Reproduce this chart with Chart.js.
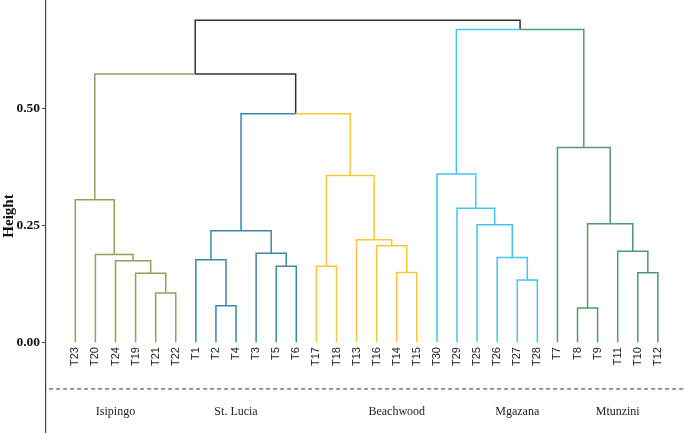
<!DOCTYPE html>
<html>
<head>
<meta charset="utf-8">
<script src="https://cdn.jsdelivr.net/npm/chart.js@4"></script>
<style>
  html, body { margin: 0; padding: 0; background: #fff; }
  #wrap { width: 685px; height: 434px; }
</style>
</head>
<body>
<div id="wrap"><canvas id="chart"></canvas></div>
<script>
// leaf order along the x axis
const leaves = ['T23','T20','T24','T19','T21','T22','T1','T2','T4','T3','T5','T6',
  'T17','T18','T13','T16','T14','T15','T30','T29','T25','T26','T27','T28',
  'T7','T8','T9','T11','T10','T12'];

// merges: [left, right, height, group]; strings are leaves, numbers are earlier merges
const merges = [
  ['T21', 'T22', 0.105, 0],
  ['T19', 0, 0.147, 0],
  ['T24', 1, 0.174, 0],
  ['T20', 2, 0.187, 0],
  ['T23', 3, 0.304, 0],
  ['T2', 'T4', 0.078, 1],
  ['T1', 5, 0.176, 1],
  ['T5', 'T6', 0.162, 1],
  ['T3', 7, 0.190, 1],
  [6, 8, 0.238, 1],
  ['T17', 'T18', 0.162, 2],
  ['T14', 'T15', 0.149, 2],
  ['T16', 11, 0.206, 2],
  ['T13', 12, 0.219, 2],
  [10, 13, 0.356, 2],
  [9, 14, 0.488, -1],
  [4, 15, 0.573, -1],
  ['T27', 'T28', 0.133, 3],
  ['T26', 17, 0.181, 3],
  ['T25', 18, 0.251, 3],
  ['T29', 19, 0.286, 3],
  ['T30', 20, 0.359, 3],
  ['T8', 'T9', 0.073, 4],
  ['T10', 'T12', 0.148, 4],
  ['T11', 23, 0.194, 4],
  [22, 24, 0.253, 4],
  ['T7', 25, 0.416, 4],
  [21, 26, 0.668, -1],
  [16, 27, 0.688, -1]
];

const groupNames = ['Isipingo', 'St. Lucia', 'Beachwood', 'Mgazana', 'Mtunzini'];
const groupLabelPos = [2, 8, 16, 22, 27];
const groupColors = ['#8aa45e', '#3a88aa', '#fcc636', '#42c6f2', '#4f9a6e'];
const yTicks = [0, 0.25, 0.5];
const cutLine = -0.1;
const groupLabelY = -0.15;

// work out node positions, then one dataset per up-link
const nodeX = merges.map(() => 0);
const posOf = (n) => typeof n === 'string' ? leaves.indexOf(n) : nodeX[n];
const hOf = (n) => typeof n === 'string' ? 0 : merges[n][2];
merges.forEach((m, i) => { nodeX[i] = (posOf(m[0]) + posOf(m[1])) / 2; });

const datasets = [];
merges.forEach((m, i) => {
  [m[0], m[1]].forEach(child => {
    const g = typeof child === 'string' ? m[3] : merges[child][3];
    const x = posOf(child);
    datasets.push({
      data: [{ x: x, y: hOf(child) }, { x: x, y: m[2] }, { x: nodeX[i], y: m[2] }],
      borderColor: g < 0 ? '#333333' : groupColors[g],
      borderWidth: 1.5,
      pointRadius: 0,
      fill: false,
      tension: 0
    });
  });
});

datasets.push({
  data: [{ x: -2, y: cutLine }, { x: 31, y: cutLine }],
  borderColor: '#333333',
  borderWidth: 1,
  borderDash: [4, 3],
  pointRadius: 0,
  fill: false
});

const textPlugin = {
  id: 'texts',
  afterDatasetsDraw(chart) {
    const ctx = chart.ctx;
    const xs = chart.scales.x, ys = chart.scales.y;
    ctx.save();
    ctx.fillStyle = '#222';
    ctx.font = '11px "Liberation Sans", Arial, sans-serif';
    ctx.textAlign = 'right';
    ctx.textBaseline = 'middle';
    leaves.forEach((name, i) => {
      ctx.save();
      ctx.translate(xs.getPixelForValue(i), ys.getPixelForValue(0) + 5);
      ctx.rotate(-Math.PI / 2);
      ctx.fillText(name, 0, 0);
      ctx.restore();
    });
    ctx.font = '12px "Liberation Serif", "Times New Roman", serif';
    ctx.textAlign = 'center';
    groupNames.forEach((name, i) => {
      ctx.fillText(name, xs.getPixelForValue(groupLabelPos[i]), ys.getPixelForValue(groupLabelY));
    });
    ctx.restore();
  }
};

new Chart(document.getElementById('chart'), {
  type: 'line',
  data: { datasets: datasets },
  options: {
    responsive: true,
    maintainAspectRatio: false,
    animation: false,
    layout: { padding: { top: 0, right: 0, bottom: 2, left: 0 } },
    plugins: { legend: { display: false }, tooltip: { enabled: false } },
    scales: {
      x: {
        type: 'linear',
        min: -1.46,
        max: 30.35,
        display: false
      },
      y: {
        type: 'linear',
        min: -0.192,
        max: 0.731,
        afterBuildTicks: (scale) => { scale.ticks = yTicks.map(v => ({ value: v })); },
        afterFit: (scale) => {
          scale.width = 46;
          scale.paddingTop = 0;
          scale.paddingBottom = 0;
        },
        border: { display: true, color: '#444', width: 1.2 },
        grid: { drawOnChartArea: false, tickLength: 4, color: '#444' },
        ticks: {
          color: '#111',
          padding: 2,
          font: { family: '"Liberation Serif", "Times New Roman", serif', size: 13.5, weight: 'bold' },
          callback: (v) => Number(v).toFixed(2)
        },
        title: {
          display: true,
          text: 'Height',
          color: '#111',
          padding: 0,
          font: { family: '"Liberation Serif", "Times New Roman", serif', size: 15, weight: 'bold' }
        }
      }
    }
  },
  plugins: [textPlugin]
});
</script>
</body>
</html>
